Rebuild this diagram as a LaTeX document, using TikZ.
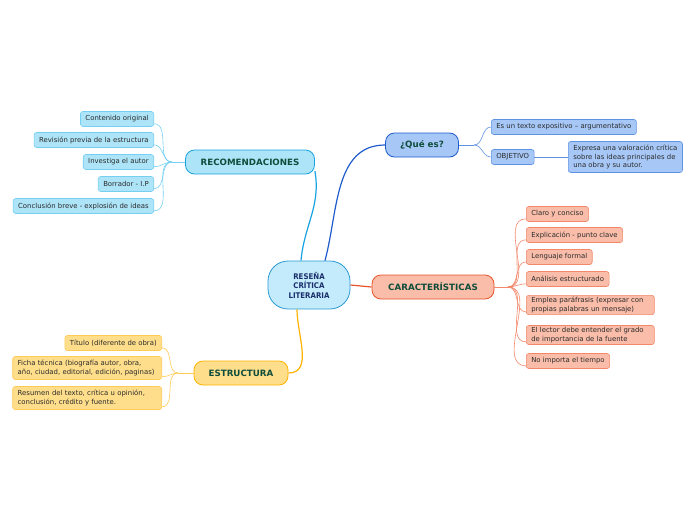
\documentclass[tikz,border=0pt]{standalone}
\usepackage{fontspec}
\setmainfont{DejaVu Sans}
\newfontfamily\condfont{DejaVu Sans Condensed}
\usetikzlibrary{positioning,calc}
\definecolor{ctrfill}{HTML}{C4EBFB}
\definecolor{ctrline}{HTML}{2A9BD6}
\definecolor{ctrtext}{HTML}{1A2F6B}
\definecolor{headtext}{HTML}{0F4D3B}
\definecolor{leaftext}{HTML}{2B2B2B}
\definecolor{recfill}{HTML}{ADE4F8}
\definecolor{recline}{HTML}{18A3E0}
\definecolor{recleaf}{HTML}{74CFF2}
\definecolor{quefill}{HTML}{A7C8F7}
\definecolor{queline}{HTML}{1F5BCB}
\definecolor{queleaf}{HTML}{5E92E2}
\definecolor{carfill}{HTML}{F9BDA9}
\definecolor{carline}{HTML}{E8542A}
\definecolor{carleaf}{HTML}{F2876A}
\definecolor{estfill}{HTML}{FFDE8B}
\definecolor{estline}{HTML}{FFB300}
\definecolor{estleaf}{HTML}{FFCB57}
\tikzset{
  % the central topic
  core/.style={draw=ctrline, fill=ctrfill, rounded corners=20pt, line width=0.8pt,
    minimum width=82pt, minimum height=48pt, align=center, text=ctrtext,
    font=\condfont\bfseries\fontsize{7.8}{9.4}\selectfont},
  % the four main topics
  topic/.style={rounded corners=9pt, line width=0.8pt, minimum height=24pt,
    inner xsep=8pt, text=headtext, font=\bfseries\fontsize{8.7}{10}\selectfont},
  % a leaf box
  leaf/.style={rounded corners=2.5pt, line width=0.6pt, minimum height=15pt,
    inner xsep=5pt, inner ysep=2pt, align=left, text=leaftext,
    font=\fontsize{6.9}{8.4}\selectfont},
  twig/.style={line width=0.6pt},
  limb/.style={line width=1.2pt},
}
\begin{document}
\begin{tikzpicture}[x=1pt,y=-1pt]
  \useasboundingbox (0,0) rectangle (696,520);
  % main topics
  \node[core] (ctr) at (309,285) {RESEÑA\\CRÍTICA\\LITERARIA};
  \node[topic, draw=recline, fill=recfill, minimum width=129pt] (rec) at (250,162) {RECOMENDACIONES};
  \node[topic, draw=queline, fill=quefill, minimum width=73pt] (que) at (422,145) {¿Qué es?};
  \node[topic, draw=carline, fill=carfill, minimum width=122pt] (car) at (433,287) {CARACTERÍSTICAS};
  \node[topic, draw=estline, fill=estfill, minimum width=94pt] (est) at (241,373) {ESTRUCTURA};
  % limbs from the centre
  \draw[limb, recline] (ctr.north) ++(-8,0) coordinate (c1) to[out=85,in=-80] (rec.-8);
  \draw[limb, queline] (ctr.north) ++(16,0) coordinate (c2) to[out=75,in=180] (que.west);
  \draw[limb, carline] (ctr.east) -- (car.west);
  \draw[limb, estline] (ctr.south) ++(-12,0) coordinate (c3) to[out=-90,in=0] (est.east);
  % recomendaciones
  \foreach \t/\y [count=\i] in {Contenido original/119,
      Revisión previa de la estructura/140, Investiga el autor/162,
      Borrador - I.P/184, Conclusión breve - explosión de ideas/206} {
    \node[leaf, draw=recleaf, fill=recfill, anchor=east] (r\i) at (154,\y) {\t};}
  \coordinate (rj) at (172,162);
  \draw[twig, recleaf] (rec.west) -- (rj);
  \foreach \i in {1,...,5} {\draw[twig, recleaf] (rj) to[out=180,in=0] ($(r\i.south east)+(0,-3)$);}
  % que es
  \node[leaf, draw=queleaf, fill=quefill, anchor=west] (q1) at (491,127) {Es un texto expositivo – argumentativo};
  \node[leaf, draw=queleaf, fill=quefill, anchor=west] (q2) at (491,157) {OBJETIVO};
  \node[leaf, draw=queleaf, fill=quefill, anchor=west, minimum height=31pt] (q3) at (568,157)
    {Expresa una valoración crítica\\sobre las ideas principales de\\una obra y su autor.};
  \coordinate (qj) at (474,145);
  \draw[twig, queleaf] (que.east) -- (qj);
  \draw[twig, queleaf] (qj) to[out=0,in=180] (q1.west);
  \draw[twig, queleaf] (qj) to[out=0,in=180] (q2.west);
  \draw[twig, queleaf] (q2.east) -- (q3.west);
  % caracteristicas
  \foreach \t/\y/\n in {Claro y conciso/214/1, Explicación - punto clave/235/2,
      Lenguaje formal/257/3, Análisis estructurado/279/4, No importa el tiempo/361/7} {
    \node[leaf, draw=carleaf, fill=carfill, anchor=west] (k\n) at (526,\y) {\t};}
  \node[leaf, draw=carleaf, fill=carfill, anchor=west, text width=118pt] (k5) at (526,305)
    {Emplea paráfrasis (expresar con\\propias palabras un mensaje)};
  \node[leaf, draw=carleaf, fill=carfill, anchor=west, text width=118pt] (k6) at (526,335)
    {El lector debe entender el grado\\de importancia de la fuente};
  \coordinate (kj) at (508,287);
  \draw[twig, carleaf] (car.east) -- (kj);
  \foreach \i in {1,...,7} {\draw[twig, carleaf] (kj) to[out=0,in=180] ($(k\i.south west)+(0,-3)$);}
  % estructura
  \node[leaf, draw=estleaf, fill=estfill, anchor=east] (e1) at (162,343) {Título (diferente de obra)};
  \node[leaf, draw=estleaf, fill=estfill, anchor=east, minimum height=23pt, text width=139pt] (e2) at (162,368)
    {Ficha técnica (biografía autor, obra,\\año, ciudad, editorial, edición, paginas)};
  \node[leaf, draw=estleaf, fill=estfill, anchor=east, minimum height=23pt, text width=139pt] (e3) at (162,398)
    {Resumen del texto, crítica u opinión,\\conclusión, crédito y fuente.};
  \coordinate (ej) at (178,373);
  \draw[twig, estleaf] (est.west) -- (ej);
  \foreach \i in {1,2,3} {\draw[twig, estleaf] (ej) to[out=180,in=0] ($(e\i.south east)+(0,-3)$);}
\end{tikzpicture}
\end{document}
